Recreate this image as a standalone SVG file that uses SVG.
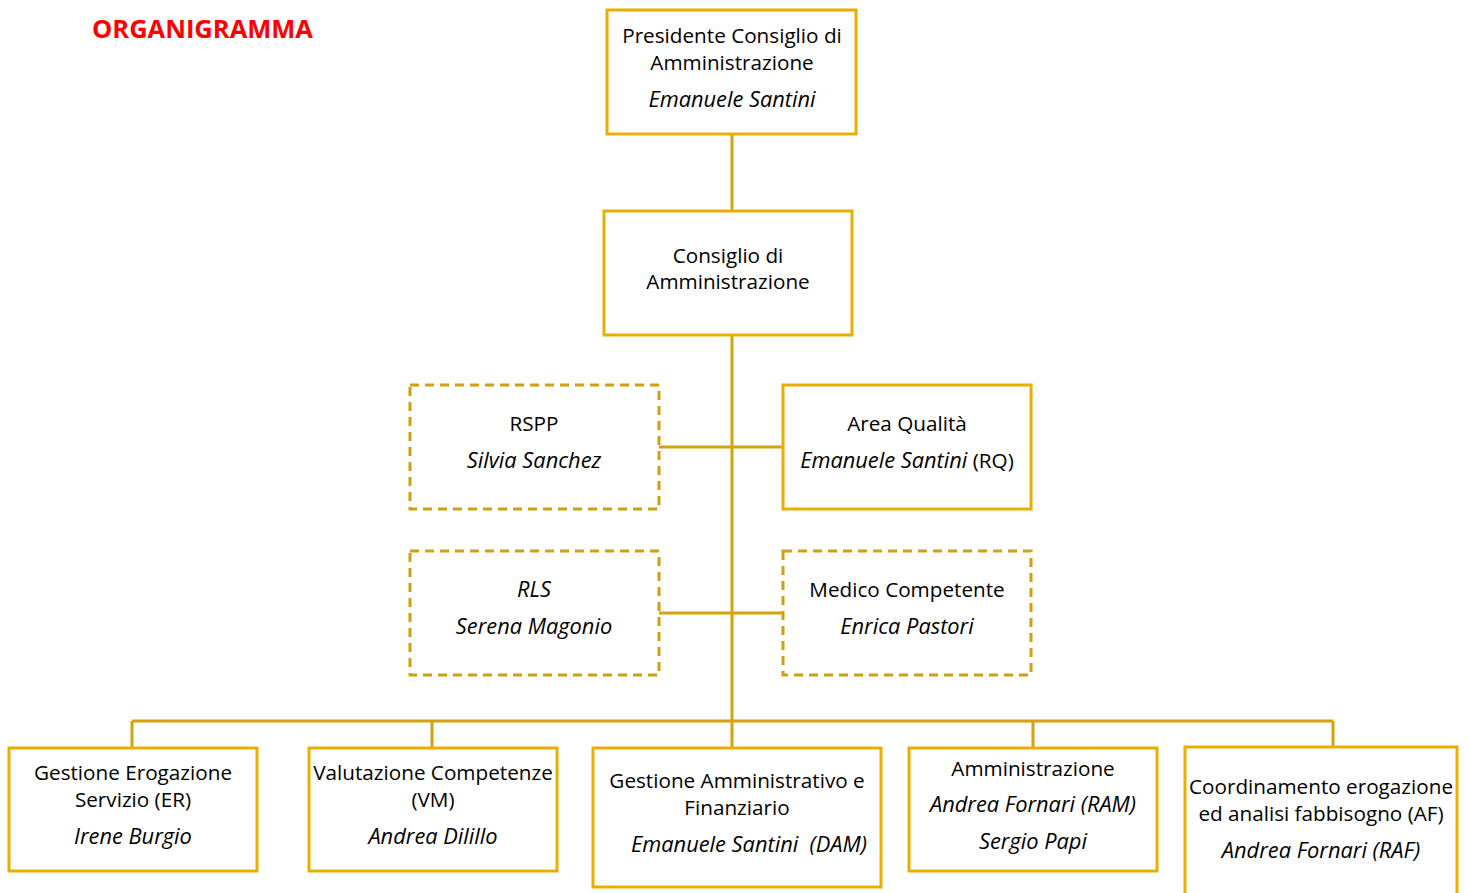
<svg xmlns="http://www.w3.org/2000/svg" width="1469" height="893" viewBox="0 0 1469 893">
<style>
text{font-family:"Open Sans","Liberation Sans",sans-serif;font-size:20.7px;fill:#000;text-anchor:middle}
.i{font-style:italic;font-size:21.8px}
tspan.i{font-size:21.8px}
.title{font-family:"Open Sans","Liberation Sans",sans-serif;font-weight:bold;font-size:25.5px;fill:#FF0000;text-anchor:start}
.box{fill:#fff;stroke:#E8AE00;stroke-width:3}
.dash{fill:#fff;stroke:#CFA012;stroke-width:3;stroke-dasharray:9 6}
.con{fill:none;stroke:#D4A20A;stroke-width:3}
</style>
<rect width="1469" height="893" fill="#fff"/>
<text class="title" x="92" y="38">ORGANIGRAMMA</text>
<g id="connectors">
<path class="con" d="M732 134V211M732 335V748M659 447H783M659 613H783M132 721H1333M132 721V748M432 721V748M1033 721V748M1333 721V748"/>
</g>
<g id="presidente">
<rect class="box" x="607" y="10" width="249" height="124"/>
<text x="732" y="43">Presidente Consiglio di</text>
<text x="732" y="70">Amministrazione</text>
<text class="i" x="732" y="107">Emanuele Santini</text>
</g>
<g id="cda">
<rect class="box" x="604" y="211" width="248" height="124"/>
<text x="728" y="263">Consiglio di</text>
<text x="728" y="289">Amministrazione</text>
</g>
<g id="rspp">
<rect class="dash" x="410" y="385" width="249" height="124"/>
<text x="534" y="431">RSPP</text>
<text class="i" x="534" y="468">Silvia Sanchez</text>
</g>
<g id="qualita">
<rect class="box" x="783" y="385" width="248" height="124"/>
<text x="907" y="431">Area Qualità</text>
<text x="907" y="468"><tspan class="i">Emanuele Santini</tspan> (RQ)</text>
</g>
<g id="rls">
<rect class="dash" x="410" y="551" width="249" height="124"/>
<text class="i" x="534" y="597">RLS</text>
<text class="i" x="534" y="634">Serena Magonio</text>
</g>
<g id="medico">
<rect class="dash" x="783" y="551" width="248" height="124"/>
<text x="907" y="597">Medico Competente</text>
<text class="i" x="907" y="634">Enrica Pastori</text>
</g>
<g id="er">
<rect class="box" x="9" y="748" width="248" height="123"/>
<text x="133" y="780">Gestione Erogazione</text>
<text x="133" y="807">Servizio (ER)</text>
<text class="i" x="133" y="844">Irene Burgio</text>
</g>
<g id="vm">
<rect class="box" x="309" y="748" width="248" height="123"/>
<text x="433" y="780">Valutazione Competenze</text>
<text x="433" y="807">(VM)</text>
<text class="i" x="433" y="844">Andrea Dilillo</text>
</g>
<g id="dam">
<rect class="box" x="593" y="748" width="288" height="139"/>
<text x="737" y="788">Gestione Amministrativo e</text>
<text x="737" y="815">Finanziario</text>
<text class="i" x="749" y="852" xml:space="preserve">Emanuele Santini  (DAM)</text>
</g>
<g id="ram">
<rect class="box" x="909" y="748" width="248" height="123"/>
<text x="1033" y="776">Amministrazione</text>
<text class="i" x="1033" y="812">Andrea Fornari (RAM)</text>
<text class="i" x="1033" y="849">Sergio Papi</text>
</g>
<g id="af">
<rect class="box" x="1185" y="747" width="272" height="160"/>
<text x="1321" y="794">Coordinamento erogazione</text>
<text x="1321" y="821">ed analisi fabbisogno (AF)</text>
<text class="i" x="1321" y="858">Andrea Fornari (RAF)</text>
</g>
</svg>
